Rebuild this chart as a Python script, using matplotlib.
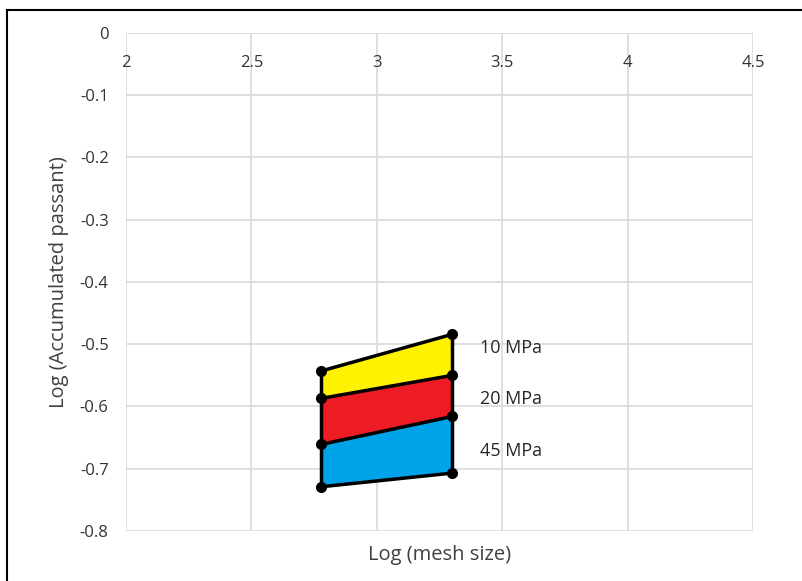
import numpy as np
import matplotlib.pyplot as plt
from matplotlib.lines import Line2D

plt.rcParams['font.family'] = ['Open Sans', 'DejaVu Sans']

# log of mesh size (two sieves) and log of accumulated passant per boundary
x_left, x_right = 2.778, 3.301
upper_left = [-0.543, -0.587, -0.661, -0.729]
upper_right = [-0.484, -0.550, -0.616, -0.707]
pressures = ['10 MPa', '20 MPa', '45 MPa']
label_y = [-0.506, -0.588, -0.672]
band_colors = ['#fff200', '#ed1c24', '#00a2e8']

x_ticks = [2, 2.5, 3, 3.5, 4, 4.5]
y_ticks = [0, -0.1, -0.2, -0.3, -0.4, -0.5, -0.6, -0.7, -0.8]

fig = plt.figure(figsize=(8.02, 5.81), dpi=100)
ax = fig.add_axes([0.1571, 0.0861, 0.7818, 0.8571])

# coloured bands between consecutive boundary lines
for i in range(3):
    xs = [x_left, x_right, x_right, x_left]
    ys = [upper_left[i], upper_right[i], upper_right[i + 1], upper_left[i + 1]]
    ax.fill(xs, ys, color=band_colors[i], edgecolor='white', lw=0.8, zorder=2)

# boundary lines and outline
for yl, yr in zip(upper_left, upper_right):
    ax.plot([x_left, x_right], [yl, yr], color='black', lw=2.5, zorder=3)
ax.plot([x_left, x_left], [upper_left[0], upper_left[-1]], color='black', lw=2.5, zorder=3)
ax.plot([x_right, x_right], [upper_right[0], upper_right[-1]], color='black', lw=2.5, zorder=3)
ax.plot([x_left] * 4, upper_left, 'o', color='black', ms=7, zorder=4)
ax.plot([x_right] * 4, upper_right, 'o', color='black', ms=7, zorder=4)

# pressure labels beside each band
for name, ym in zip(pressures, label_y):
    ax.text(3.413, ym, name, fontsize=13, color='#262626', va='center', ha='left')

ax.set_xlim(2, 4.5)
ax.set_ylim(-0.8, 0)
ax.set_xticks(x_ticks)
ax.set_xticklabels(['2', '2.5', '3', '3.5', '4', '4.5'])
ax.set_yticks(y_ticks)
ax.set_yticklabels(['0', '-0.1', '-0.2', '-0.3', '-0.4', '-0.5', '-0.6', '-0.7', '-0.8'])
ax.xaxis.tick_top()
ax.tick_params(axis='x', top=False, pad=-19, labelsize=12, labelcolor='#333333')
ax.tick_params(axis='y', left=False, pad=9, labelsize=12, labelcolor='#333333')
for lbl in ax.get_xticklabels():
    lbl.set_verticalalignment('top')
ax.grid(True, color='#d9d9d9', lw=1.2, zorder=0)
ax.set_axisbelow(True)
for s in ax.spines.values():
    s.set_visible(False)

ax.set_xlabel('Log (mesh size)', fontsize=14.5, color='#404040', labelpad=10)
ax.set_ylabel('Log (Accumulated passant)', fontsize=14.5, color='#404040', labelpad=8)

# outer frame (left and top edges)
fig.add_artist(Line2D([0.009, 0.009], [0, 0.983], color='black', lw=1.5))
fig.add_artist(Line2D([0.009, 1], [0.983, 0.983], color='black', lw=1.5))

fig.savefig('out.png', dpi=100)
